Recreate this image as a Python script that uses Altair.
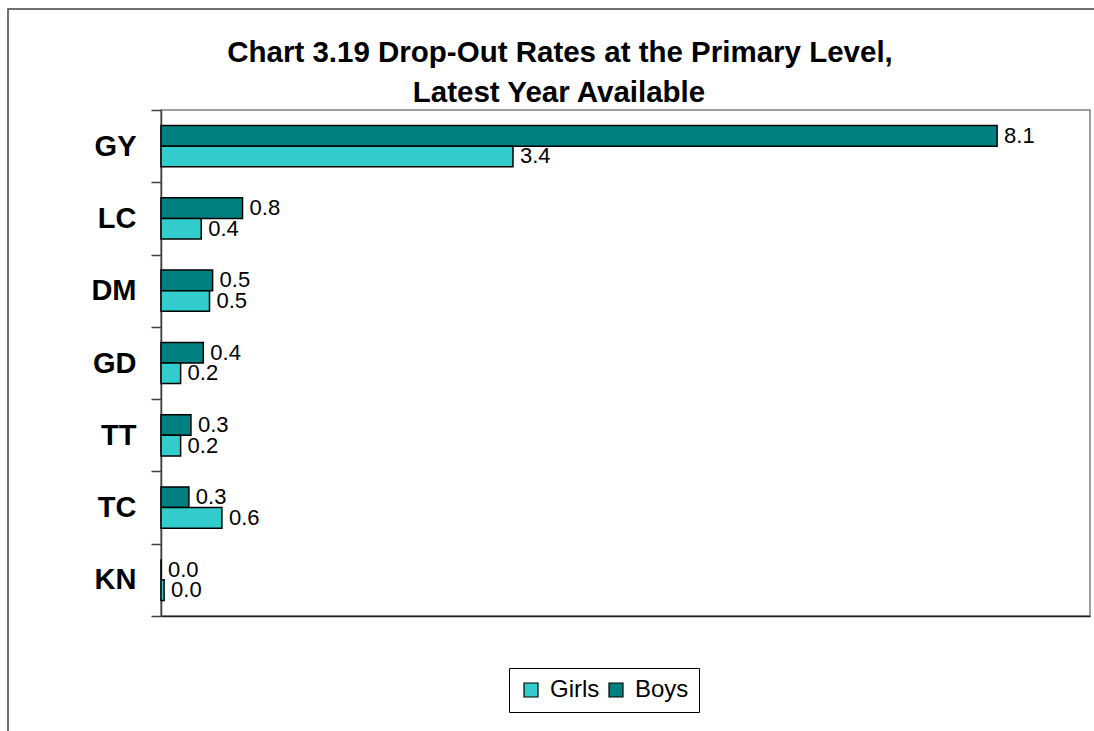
import altair as alt
import pandas as pd

categories = ["GY", "LC", "DM", "GD", "TT", "TC", "KN"]
boys = [8.1, 0.79, 0.50, 0.41, 0.29, 0.27, 0.0]
girls = [3.41, 0.39, 0.47, 0.19, 0.19, 0.59, 0.03]
series = ["Girls", "Boys"]
colors = ["#33CCCC", "#008080"]
title_lines = ["Chart 3.19 Drop-Out Rates at the Primary Level,", "Latest Year Available"]

rows = []
for c, b, g in zip(categories, boys, girls):
    rows.append({"cat": c, "sex": "Boys", "value": b})
    rows.append({"cat": c, "sex": "Girls", "value": g})
df = pd.DataFrame(rows)

FONT = "Liberation Sans"

y_enc = alt.Y("cat:N", sort=categories,
              scale=alt.Scale(paddingInner=0, paddingOuter=0),
              axis=alt.Axis(title=None, labelFont=FONT, labelFontSize=29,
                            labelFontWeight="bold", labelColor="black",
                            tickBand="extent", tickSize=10, tickColor="#404040",
                            tickWidth=1.5, domainColor="#404040", domainWidth=1.5,
                            labelPadding=15, grid=False))
x_enc = alt.X("value:Q", scale=alt.Scale(domain=[0, 9], nice=False, zero=True),
              axis=alt.Axis(title=None, labels=False, ticks=False, grid=False,
                            domainColor="#202020", domainWidth=1.5))
yoff = alt.YOffset("sex:N", sort=["Boys", "Girls"],
                   scale=alt.Scale(paddingInner=0, paddingOuter=0.755))

bars = alt.Chart(df).mark_bar(stroke="black", strokeWidth=1.5).encode(
    x=x_enc,
    y=y_enc,
    yOffset=yoff,
    color=alt.Color("sex:N", scale=alt.Scale(domain=series, range=colors),
                    legend=alt.Legend(orient="none", legendX=348, legendY=558,
                                      direction="horizontal", title=None,
                                      symbolType="square", symbolSize=196,
                                      symbolStrokeColor="black", symbolStrokeWidth=1.2,
                                      labelFont=FONT, labelFontSize=24, labelColor="black",
                                      strokeColor="black", fillColor="white",
                                      padding=10, columnPadding=4, labelOffset=7)),
)

labels = alt.Chart(df).mark_text(align="left", baseline="middle", dx=7,
                                 fontSize=22, font=FONT, color="black").encode(
    x="value:Q",
    y=alt.Y("cat:N", sort=categories),
    yOffset=yoff,
    text=alt.Text("value:Q", format=".1f"),
)

t1 = alt.Chart(pd.DataFrame({"t": [title_lines[0]]})).mark_text(
    align="center", baseline="alphabetic", fontSize=29.5, fontWeight="bold",
    font=FONT, color="black").encode(text="t:N", x=alt.value(399), y=alt.value(-48))
t2 = alt.Chart(pd.DataFrame({"t": [title_lines[1]]})).mark_text(
    align="center", baseline="alphabetic", fontSize=29.5, fontWeight="bold",
    font=FONT, color="black").encode(text="t:N", x=alt.value(398), y=alt.value(-8))

frame = alt.Chart(pd.DataFrame({"a": [0]})).mark_rect(
    fillOpacity=0, stroke="#404040", strokeWidth=1.5).encode(
    x=alt.value(-153), x2=alt.value(1300), y=alt.value(-101), y2=alt.value(1000))

chart = alt.layer(frame, bars, labels, t1, t2).properties(
    width=929, height=506,
    autosize=alt.AutoSizeParams(type="none"),
    padding={"left": 161, "top": 110, "right": 4, "bottom": 115},
    background="white",
).configure_view(stroke="#808080", strokeWidth=1.5)

chart.save("out.html", embed_options={"renderer": "svg", "actions": False})
